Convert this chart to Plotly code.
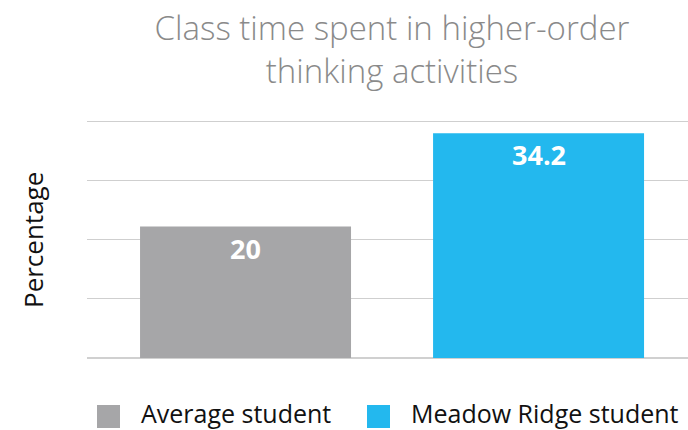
import plotly.graph_objects as go

categories = ["Average student", "Meadow Ridge student"]
values = [20, 34.2]
colors = ["#a6a6a8", "#23b8ee"]
title_text = "Class time spent in higher-order<br>thinking activities"
y_title = "Percentage"
y_max = 36.2
y_tick_step = 9

W, H = 688, 430
L, R, T, B = 87, 0, 120, 72
pw = W - L - R
ph = H - T - B

FONT = "Open Sans"


def px_x(px):
    return (px - L) / pw


def px_y(py):
    return (T + ph - py) / ph


fig = go.Figure()
for i, (cat, val, col) in enumerate(zip(categories, values, colors)):
    fig.add_trace(go.Bar(
        x=[i], y=[val], name=cat, marker=dict(color=col, line=dict(width=0)),
        width=0.72, hoverinfo="skip", showlegend=False,
    ))
    fig.add_annotation(
        x=i, y=val, xref="x", yref="y", text=f"<b>{val:g}</b>",
        showarrow=False, yanchor="top", yshift=-1,
        font=dict(family=FONT, size=27, color="white"),
    )

# custom legend (large square swatches)
legend_x = [97, 367]
sw = 23
for cat, col, lx in zip(categories, colors, legend_x):
    fig.add_shape(type="rect", xref="paper", yref="paper",
                  x0=px_x(lx), x1=px_x(lx + sw), y0=px_y(405 + sw), y1=px_y(405),
                  fillcolor=col, line=dict(width=0))
    fig.add_annotation(
        x=px_x(lx + sw + 19), y=px_y(412.5), xref="paper", yref="paper",
        text=cat, showarrow=False, xanchor="left", yanchor="middle",
        font=dict(family=FONT, size=25, color="#111"),
    )

fig.add_annotation(
    x=px_x(33), y=px_y(240), xref="paper", yref="paper", text=y_title,
    textangle=-90, showarrow=False, xanchor="center", yanchor="middle",
    font=dict(family=FONT, size=26, color="#111"),
)

fig.update_layout(
    width=W, height=H,
    margin=dict(l=L, r=R, t=T, b=B, autoexpand=False),
    paper_bgcolor="white", plot_bgcolor="white",
    barmode="overlay",
    showlegend=False,
    title=dict(text=title_text, x=px_x(392), xref="paper", xanchor="center",
               y=(H - 40) / H, yanchor="middle",
               font=dict(family=FONT, size=33, color="#8a8a8a", weight=300)),
    xaxis=dict(range=[-0.541, 1.51], showticklabels=False, showgrid=False,
               zeroline=False, showline=False, ticks=""),
    yaxis=dict(range=[0, y_max], dtick=y_tick_step, showticklabels=False, ticks="",
               showgrid=True, gridcolor="#cfcfcf", gridwidth=1,
               zeroline=True, zerolinecolor="#d0d0d0", zerolinewidth=2,
               showline=False),
)

fig.write_html(
    "out.html",
    config={"displayModeBar": False},
    post_script="document.body.style.margin='0';document.body.style.padding='0';",
)
